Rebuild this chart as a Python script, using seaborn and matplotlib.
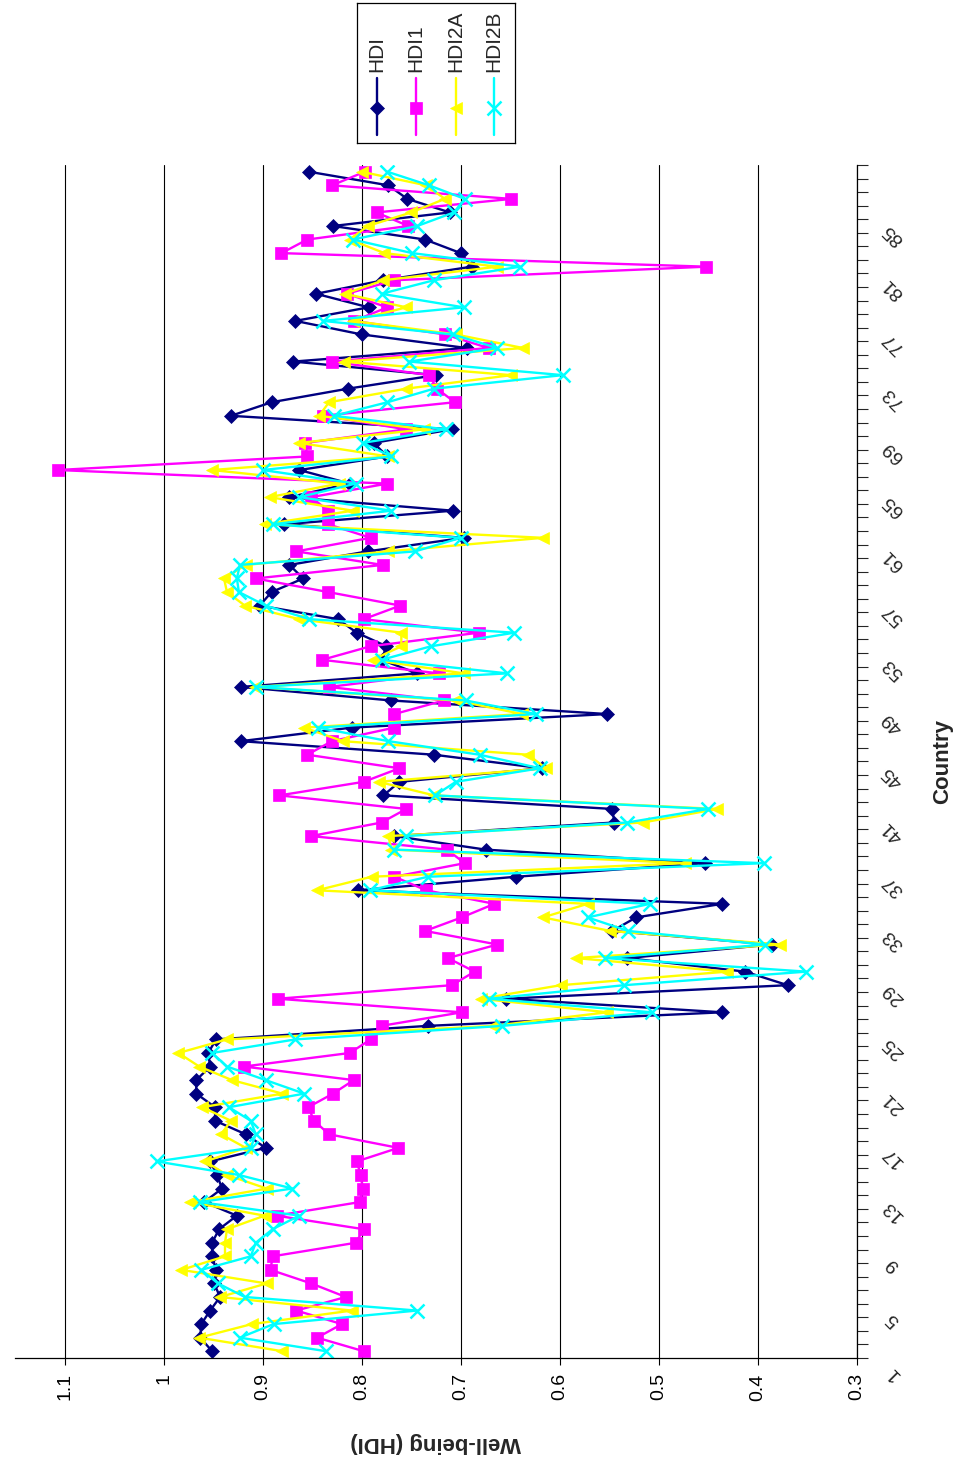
import numpy as np
import pandas as pd
import matplotlib
matplotlib.use("Agg")
import matplotlib.pyplot as plt
import matplotlib.transforms as mtransforms
from matplotlib.lines import Line2D
import seaborn as sns

# =====================================
# Data
# =====================================

countries = list(range(1, 89))

hdi = [
    0.951, 0.963, 0.962, 0.953, 0.943, 0.949, 0.947, 0.951, 0.951, 0.944,
    0.926, 0.959, 0.941, 0.946, 0.953, 0.897, 0.917, 0.948, 0.948, 0.967,
    0.967, 0.953, 0.955, 0.947, 0.733, 0.436, 0.654, 0.370, 0.413, 0.532,
    0.386, 0.547, 0.523, 0.436, 0.804, 0.644, 0.453, 0.675, 0.767, 0.545,
    0.547, 0.778, 0.762, 0.618, 0.727, 0.922, 0.810, 0.552, 0.770, 0.922,
    0.744, 0.780, 0.775, 0.805, 0.824, 0.903, 0.891, 0.859, 0.873, 0.794,
    0.697, 0.878, 0.708, 0.873, 0.812, 0.863, 0.774, 0.788, 0.709, 0.932,
    0.891, 0.814, 0.725, 0.869, 0.694, 0.800, 0.867, 0.793, 0.846, 0.778,
    0.689, 0.700, 0.736, 0.829, 0.711, 0.754, 0.773, 0.853,
]

hdi1 = [
    0.798, 0.845, 0.820, 0.866, 0.816, 0.851, 0.892, 0.890, 0.806, 0.798,
    0.886, 0.802, 0.799, 0.801, 0.805, 0.763, 0.833, 0.848, 0.854, 0.829,
    0.808, 0.919, 0.812, 0.791, 0.780, 0.699, 0.885, 0.709, 0.686, 0.713,
    0.663, 0.736, 0.699, 0.666, 0.735, 0.767, 0.696, 0.714, 0.851, 0.780,
    0.755, 0.883, 0.798, 0.762, 0.855, 0.830, 0.767, 0.767, 0.717, 0.833,
    0.722, 0.840, 0.791, 0.682, 0.798, 0.761, 0.834, 0.907, 0.779, 0.866,
    0.791, 0.834, 0.834, 0.851, 0.774, 1.107, 0.855, 0.857, 0.755, 0.839,
    0.706, 0.724, 0.732, 0.830, 0.672, 0.716, 0.808, 0.774, 0.815, 0.767,
    0.452, 0.881, 0.855, 0.753, 0.785, 0.649, 0.830, 0.797,
]

hdi2a = [
    0.880, 0.964, 0.911, 0.810, 0.943, 0.896, 0.982, 0.938, 0.938, 0.936,
    0.898, 0.973, 0.896, 0.936, 0.958, 0.917, 0.942, 0.932, 0.961, 0.880,
    0.931, 0.964, 0.985, 0.936, 0.667, 0.552, 0.680, 0.599, 0.431, 0.584,
    0.378, 0.549, 0.617, 0.572, 0.845, 0.790, 0.474, 0.770, 0.773, 0.516,
    0.441, 0.727, 0.783, 0.614, 0.632, 0.819, 0.858, 0.638, 0.705, 0.908,
    0.697, 0.789, 0.760, 0.760, 0.863, 0.918, 0.936, 0.939, 0.917, 0.773,
    0.617, 0.898, 0.809, 0.893, 0.823, 0.951, 0.773, 0.863, 0.737, 0.843,
    0.833, 0.755, 0.649, 0.818, 0.637, 0.705, 0.809, 0.755, 0.817, 0.778,
    0.663, 0.777, 0.812, 0.794, 0.750, 0.716, 0.735, 0.800,
]

hdi2b = [
    0.836, 0.923, 0.889, 0.744, 0.918, 0.945, 0.962, 0.912, 0.907, 0.890,
    0.863, 0.963, 0.870, 0.924, 1.007, 0.912, 0.907, 0.912, 0.934, 0.858,
    0.897, 0.936, 0.951, 0.867, 0.658, 0.507, 0.671, 0.535, 0.351, 0.554,
    0.393, 0.531, 0.572, 0.509, 0.792, 0.733, 0.394, 0.767, 0.755, 0.532,
    0.450, 0.726, 0.705, 0.620, 0.681, 0.773, 0.844, 0.624, 0.695, 0.907,
    0.653, 0.780, 0.730, 0.646, 0.853, 0.897, 0.924, 0.926, 0.923, 0.746,
    0.700, 0.890, 0.770, 0.863, 0.806, 0.900, 0.770, 0.799, 0.715, 0.828,
    0.774, 0.727, 0.597, 0.752, 0.663, 0.708, 0.839, 0.697, 0.780, 0.727,
    0.640, 0.749, 0.809, 0.744, 0.707, 0.696, 0.732, 0.774,
]

series_names = ["HDI", "HDI1", "HDI2A", "HDI2B"]
series_values = [hdi, hdi1, hdi2a, hdi2b]
series_colors = ["#000080", "#FF00FF", "#FFFF00", "#00FFFF"]
series_markers = ["D", "s", "<", "x"]
series_msize = [7.5, 8, 9, 10]

value_ticks = [0.3, 0.4, 0.5, 0.6, 0.7, 0.8, 0.9, 1.0, 1.1]
value_labels = ["0.3", "0.4", "0.5", "0.6", "0.7", "0.8", "0.9", "1", "1.1"]
country_ticks = list(range(1, 89, 4))

# =====================================
# Style
# =====================================

sns.set_style("white")
plt.rcParams["font.family"] = ["Liberation Sans", "DejaVu Sans"]

fig = plt.figure(figsize=(9.64, 14.69), dpi=100)
fig.patch.set_facecolor("white")

W, H = 964.0, 1469.0
ax = fig.add_axes([15 / W, (H - 1358) / H, 842 / W, (1358 - 165) / H])

# =====================================
# Lines (chart is turned on its side)
# =====================================

for name, vals, col, mk, ms in zip(series_names, series_values,
                                   series_colors, series_markers,
                                   series_msize):
    df = pd.DataFrame({"country": countries, "value": vals})
    sns.lineplot(
        data=df, x="value", y="country", orient="y", ax=ax,
        color=col, linewidth=1.7, marker=mk, markersize=ms,
        markeredgecolor=col, markerfacecolor=col,
        markeredgewidth=1.8 if mk == "x" else 0.5,
        label=name, legend=False,
    )

# =====================================
# Axes
# =====================================

ax.set_xlim(1.15, 0.3)
ax.set_ylim(0.5, 88.5)

ax.set_xticks(value_ticks)
ax.set_xticklabels(value_labels, rotation=90, fontsize=14)
ax.grid(axis="x", color="black", linewidth=0.8)
ax.grid(axis="y", visible=False)
ax.tick_params(axis="x", direction="out", length=5, width=0.8,
               pad=6, bottom=True, colors="black")

ax.yaxis.tick_right()
ax.set_yticks(country_ticks)
ax.set_yticklabels([str(c) for c in country_ticks], fontsize=14)
ax.set_yticks(np.arange(0.5, 89.0, 1.0), minor=True)
ax.tick_params(axis="y", which="major", length=0, pad=0)
ax.tick_params(axis="y", which="minor", direction="out", length=8,
               width=0.8, right=True, left=False)

shift = mtransforms.ScaledTranslation(36 / 100, -22 / 100,
                                      fig.dpi_scale_trans)
for lab in ax.get_yticklabels():
    lab.set_rotation(135)
    lab.set_rotation_mode("anchor")
    lab.set_horizontalalignment("center")
    lab.set_verticalalignment("center")
    lab.set_transform(lab.get_transform() + shift)

for side in ["top", "left"]:
    ax.spines[side].set_visible(False)
for side in ["bottom", "right"]:
    ax.spines[side].set_color("black")
    ax.spines[side].set_linewidth(0.9)

ax.set_xlabel("Well-being (HDI)", fontsize=16, fontweight="bold",
              rotation=180)
ax.xaxis.set_label_coords(0.5, -(1432 - 1358) / 1193)
ax.set_ylabel("Country", fontsize=16, fontweight="bold", rotation=90)
ax.yaxis.set_label_position("right")
ax.yaxis.set_label_coords((932 - 15) / 842, 0.5)

# =====================================
# Legend (drawn by hand, rotated like the chart)
# =====================================

lax = fig.add_axes([357 / W, (H - 143) / H, 158 / W, 140 / H])
lax.set_xlim(357, 515)
lax.set_ylim(143, 3)
lax.set_xticks([])
lax.set_yticks([])
for s in lax.spines.values():
    s.set_color("black")
    s.set_linewidth(0.9)

legend_x = [377, 416, 456, 494]
for x, name, col, mk, ms in zip(legend_x, series_names, series_colors,
                                series_markers, series_msize):
    lax.add_line(Line2D([x, x, x], [78, 108, 135], color=col,
                        linewidth=1.7, marker=mk, markersize=ms,
                        markevery=[1], markeredgecolor=col,
                        markerfacecolor=col,
                        markeredgewidth=1.8 if mk == "x" else 0.5))
    lax.text(x, 72, name, rotation=90, ha="center", va="bottom",
             fontsize=15)

plt.savefig("out.png", dpi=100)
plt.close()
